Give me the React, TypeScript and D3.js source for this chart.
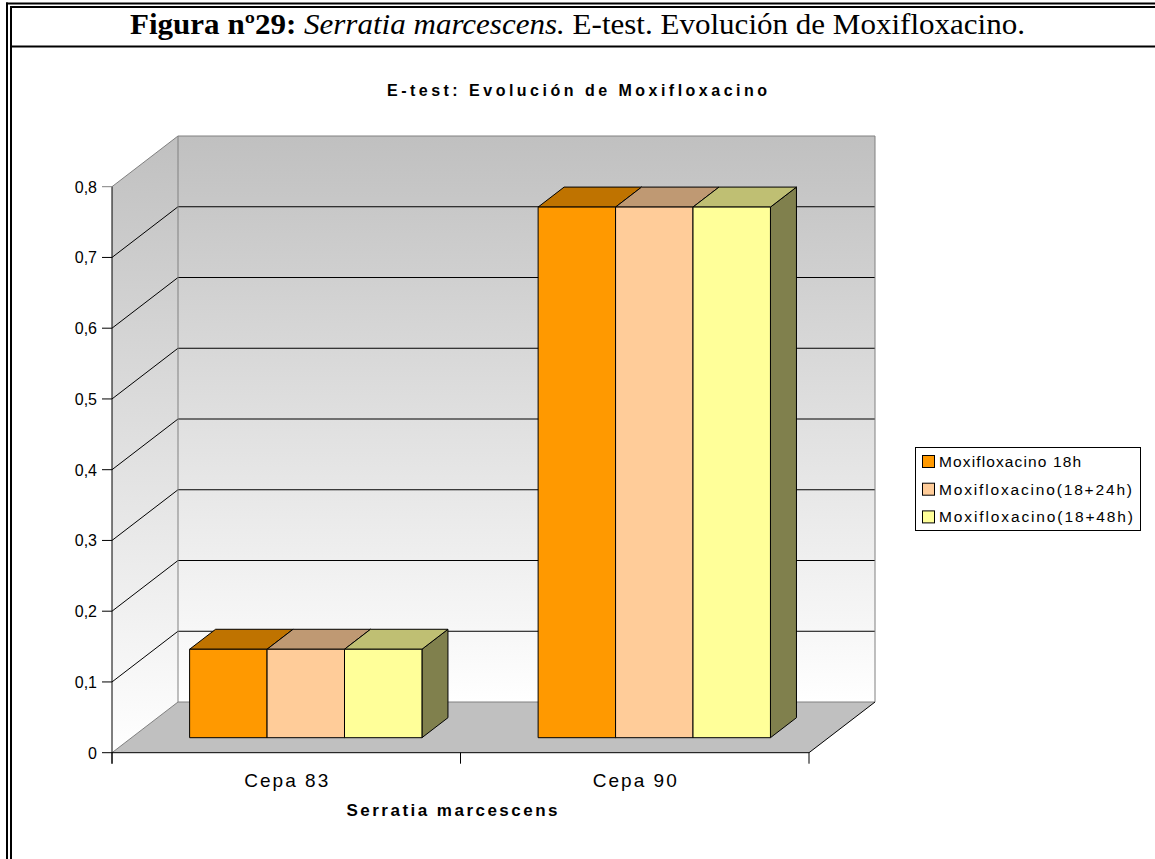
import React from 'react';
import * as d3 from 'd3';

const categories = ['Cepa 83', 'Cepa 90'];
const seriesNames = ['Moxifloxacino 18h', 'Moxifloxacino(18+24h)', 'Moxifloxacino(18+48h)'];
const values18h = [0.125, 0.75];
const values24h = [0.125, 0.75];
const values48h = [0.125, 0.75];
const seriesColors = ['#FF9900', '#FFCC99', '#FFFF99'];
const yTicks = [0, 0.1, 0.2, 0.3, 0.4, 0.5, 0.6, 0.7, 0.8];
const gridValues = [0.1, 0.2, 0.3, 0.4, 0.5, 0.6, 0.7];
const legendWidths = [142, 193, 194];

const W = 1155;
const H = 859;
const X0 = 112;
const X1 = 809;
const DX = 66;
const DY = -50.7;
const F1 = 0.296;
const F2 = 0.69;
const SANS = "'Liberation Sans', Arial, sans-serif";
const SERIF = "'Liberation Serif', 'Times New Roman', serif";

const fmt = (v: number) => (v === 0 ? '0' : d3.format('.1f')(v).replace('.', ','));
const shade = (c: string, k: number) => {
  const r = d3.rgb(c);
  return d3.rgb(r.r * k, r.g * k, r.b * k).formatHex();
};

export default function App() {
  const seriesValues = [values18h, values24h, values48h];
  const x = d3.scaleBand<string>().domain(categories).range([X0, X1]).paddingInner(0).paddingOuter(0);
  const xs = d3
    .scaleBand<string>()
    .domain(seriesNames)
    .range([0, x.bandwidth()])
    .paddingInner(0)
    .paddingOuter(0.75);
  const y = d3.scaleLinear().domain([0, 0.8]).range([752.7, 186.7]);
  const y0 = y(0);
  const yTop = y(0.8);

  const wallPoly = [
    [X0 + DX, yTop + DY],
    [X1 + DX, yTop + DY],
    [X1 + DX, y0 + DY],
    [X0 + DX, y0 + DY],
  ];
  const sidePoly = [
    [X0, y0],
    [X0, yTop],
    [X0 + DX, yTop + DY],
    [X0 + DX, y0 + DY],
  ];
  const floorPoly = [
    [X0, y0],
    [X1, y0],
    [X1 + DX, y0 + DY],
    [X0 + DX, y0 + DY],
  ];
  const pts = (p: number[][]) => p.map((q) => q.join(',')).join(' ');

  const bars: JSX.Element[] = [];
  categories.forEach((cat, ci) => {
    seriesNames.forEach((s, si) => {
      const v = seriesValues[si][ci];
      const xl = (x(cat) as number) + (xs(s) as number);
      const xr = xl + xs.bandwidth();
      const fx1 = F1 * DX;
      const fy1 = F1 * DY;
      const fx2 = F2 * DX;
      const fy2 = F2 * DY;
      const yt = y(v);
      const color = seriesColors[si];
      const front = [
        [xl + fx1, yt + fy1],
        [xr + fx1, yt + fy1],
        [xr + fx1, y0 + fy1],
        [xl + fx1, y0 + fy1],
      ];
      const top = [
        [xl + fx1, yt + fy1],
        [xr + fx1, yt + fy1],
        [xr + fx2, yt + fy2],
        [xl + fx2, yt + fy2],
      ];
      const side = [
        [xr + fx1, yt + fy1],
        [xr + fx2, yt + fy2],
        [xr + fx2, y0 + fy2],
        [xr + fx1, y0 + fy1],
      ];
      bars.push(
        <g key={cat + s}>
          <polygon points={pts(side)} fill={shade(color, 0.5)} stroke="#000" strokeWidth={1} strokeLinejoin="round" />
          <polygon points={pts(top)} fill={shade(color, 0.75)} stroke="#000" strokeWidth={1} strokeLinejoin="round" />
          <polygon points={pts(front)} fill={color} stroke="#000" strokeWidth={1} strokeLinejoin="round" />
        </g>
      );
    });
  });

  return (
    <svg
      width={W}
      height={H}
      viewBox={`0 0 ${W} ${H}`}
      style={{ position: 'absolute', left: 0, top: 0, background: '#fff' }}
    >
      <defs>
        <linearGradient id="wallGrad" x1="0" y1="0" x2="0" y2="1">
          <stop offset="0" stopColor="#c0c0c0" />
          <stop offset="1" stopColor="#ffffff" />
        </linearGradient>
      </defs>
      <rect x={0} y={0} width={W} height={H} fill="#fff" />

      {/* page frame */}
      <line x1={7} y1={2.5} x2={7} y2={H} stroke="#000" strokeWidth={2} />
      <line x1={11} y1={6.5} x2={11} y2={H} stroke="#000" strokeWidth={2} />
      <line x1={6} y1={3.5} x2={W} y2={3.5} stroke="#000" strokeWidth={2} />
      <line x1={10} y1={7} x2={W} y2={7} stroke="#000" strokeWidth={2} />
      <line x1={10} y1={46.5} x2={W} y2={46.5} stroke="#000" strokeWidth={2} />

      {/* header */}
      <text
        x={130}
        y={34}
        fontFamily={SERIF}
        fontSize={29}
        textLength={895}
        lengthAdjust="spacingAndGlyphs"
        fill="#000"
      >
        <tspan fontWeight="bold">{'Figura nº29:'}</tspan>
        <tspan fontStyle="italic">{' Serratia marcescens.'}</tspan>
        <tspan>{' E-test. Evolución de Moxifloxacino.'}</tspan>
      </text>

      {/* chart title */}
      <text
        x={577}
        y={96}
        textAnchor="middle"
        fontFamily={SANS}
        fontWeight="bold"
        fontSize={16}
        textLength={380}
        fill="#000"
      >
        E-test: Evolución de Moxifloxacino
      </text>

      {/* walls */}
      <polygon points={pts(wallPoly)} fill="url(#wallGrad)" stroke="none" />
      <polygon points={pts(sidePoly)} fill="url(#wallGrad)" stroke="none" />
      <polygon points={pts(floorPoly)} fill="#c0c0c0" stroke="none" />

      {/* gridlines */}
      {gridValues.map((v) => (
        <g key={'g' + v}>
          <line x1={X0} y1={y(v)} x2={X0 + DX} y2={y(v) + DY} stroke="#000" strokeWidth={1} />
          <line x1={X0 + DX} y1={y(v) + DY} x2={X1 + DX} y2={y(v) + DY} stroke="#000" strokeWidth={1} />
        </g>
      ))}

      {/* wall borders */}
      <polyline
        points={pts([
          [X0, yTop],
          [X0 + DX, yTop + DY],
          [X1 + DX, yTop + DY],
          [X1 + DX, y0 + DY],
        ])}
        fill="none"
        stroke="#808080"
        strokeWidth={1}
      />
      <line x1={X0 + DX} y1={yTop + DY} x2={X0 + DX} y2={y0 + DY} stroke="#808080" strokeWidth={1} />
      <polyline
        points={pts([
          [X0, y0],
          [X0 + DX, y0 + DY],
          [X1 + DX, y0 + DY],
        ])}
        fill="none"
        stroke="#808080"
        strokeWidth={1}
      />
      <line x1={X1} y1={y0} x2={X1 + DX} y2={y0 + DY} stroke="#000" strokeWidth={1} />

      {/* bars */}
      {bars}

      {/* axes */}
      <line x1={X0} y1={yTop} x2={X0} y2={y0 + 11} stroke="#000" strokeWidth={1} />
      <line x1={X0} y1={y0} x2={X1} y2={y0} stroke="#000" strokeWidth={1} />
      {yTicks.map((v) => (
        <g key={'t' + v}>
          <line x1={102} y1={y(v)} x2={X0} y2={y(v)} stroke={v === 0.8 ? '#808080' : '#000'} strokeWidth={1} />
          <text x={97} y={y(v) + 6} textAnchor="end" fontFamily={SANS} fontSize={16} fill="#000">
            {fmt(v)}
          </text>
        </g>
      ))}
      {[...categories.map((c) => x(c) as number), X1].map((t, i) => (
        <line key={'xt' + i} x1={t} y1={y0} x2={t} y2={y0 + 11} stroke="#000" strokeWidth={1} />
      ))}
      {categories.map((c) => (
        <text
          key={'c' + c}
          x={(x(c) as number) + x.bandwidth() / 2}
          y={787}
          textAnchor="middle"
          fontFamily={SANS}
          fontSize={19}
          textLength={84}
          fill="#000"
        >
          {c}
        </text>
      ))}
      <text
        x={452}
        y={816}
        textAnchor="middle"
        fontFamily={SANS}
        fontWeight="bold"
        fontSize={17}
        textLength={211}
        fill="#000"
      >
        Serratia marcescens
      </text>

      {/* legend */}
      <rect x={915.5} y={447.5} width={225} height={83} fill="#fff" stroke="#000" strokeWidth={1} />
      {seriesNames.map((s, i) => (
        <g key={'l' + s}>
          <rect x={922.5} y={455.5 + i * 27.7} width={12} height={12} fill={seriesColors[i]} stroke="#000" strokeWidth={1} />
          <text
            x={939}
            y={467 + i * 27.7}
            fontFamily={SANS}
            fontSize={15.5}
            textLength={legendWidths[i]}
            fill="#000"
          >
            {s}
          </text>
        </g>
      ))}
    </svg>
  );
}
